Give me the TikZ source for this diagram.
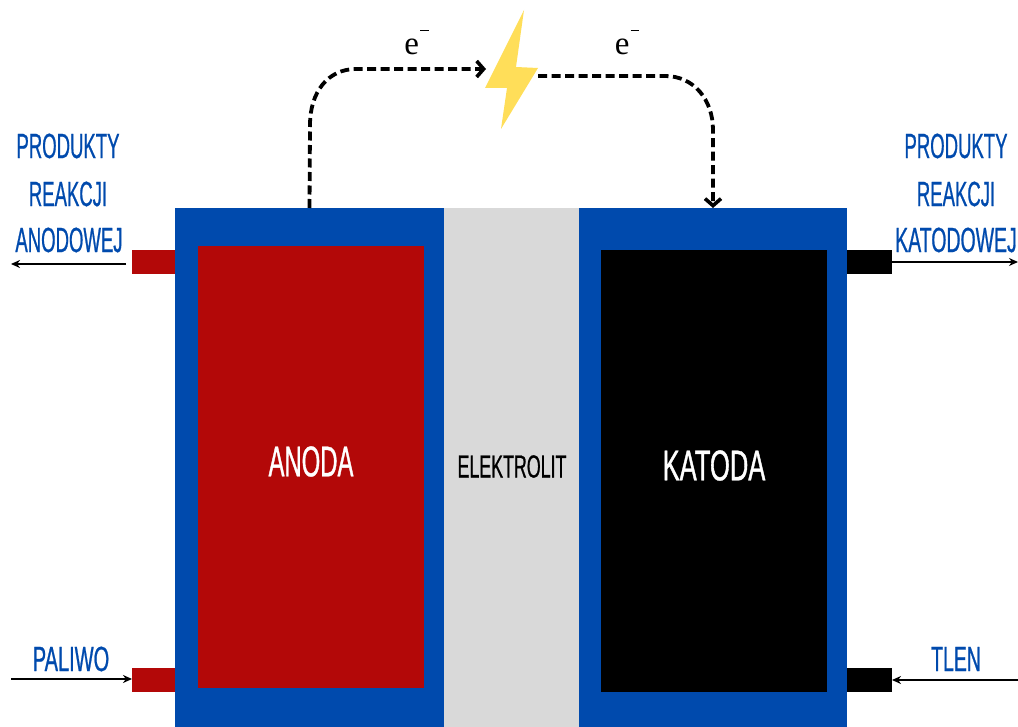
\documentclass[tikz,border=0pt]{standalone}
\usepackage{fontspec}
\setmainfont[FakeStretch=0.53,FakeBold=0.6]{Liberation Sans}
\newfontfamily\bigfont[FakeStretch=0.555,FakeBold=0.8]{Liberation Sans}
\newfontfamily\serifel{Liberation Serif}
\usetikzlibrary{arrows.meta}
\definecolor{cellblue}{HTML}{004AAD}
\definecolor{anodered}{HTML}{B30808}
\definecolor{elgray}{HTML}{D9D9D9}
\definecolor{boltyellow}{HTML}{FFDE59}
\tikzset{
  block/.style={rectangle,inner sep=0pt,outer sep=0pt,draw=none},
  biglabel/.style={inner sep=0pt,text=white,font=\bigfont\fontsize{43}{43}\selectfont},
  sidelabel/.style={inner sep=0pt,text=cellblue,font=\fontsize{35}{35}\selectfont},
  ellabel/.style={inner sep=0pt,font=\fontsize{32}{32}\selectfont},
  elabel/.style={inner sep=0pt,font=\serifel\fontsize{33}{33}\selectfont},
  widen/.style={transform shape,xscale=#1},
  flow/.style={line width=1.6pt,-{Stealth[length=9pt,width=8pt]}},
  current/.style={line width=3.8pt,dash pattern=on 9pt off 4.5pt,-{Straight Barb[length=7pt,width=16pt,line width=3.6pt]}},
}
\newcommand{\emin}{e\kern1pt\raisebox{24pt}{\rule{8.5pt}{1.2pt}}}
\begin{document}
\begin{tikzpicture}[x=1pt,y=-1pt]
\useasboundingbox (0,0) rectangle (1018,727);
\clip (0,0) rectangle (1018,727);
% ports
\node[block,fill=anodered,minimum width=44pt,minimum height=24pt] (portat) at (154,262) {};
\node[block,fill=anodered,minimum width=44pt,minimum height=24pt] (portab) at (154,680) {};
\node[block,fill=black,minimum width=45pt,minimum height=24pt] (portkt) at (869.5,262) {};
\node[block,fill=black,minimum width=45pt,minimum height=24pt] (portkb) at (869.5,680) {};
% cell
\node[block,fill=cellblue,minimum width=269pt,minimum height=519pt] (housea) at (309.5,467.5) {};
\node[block,fill=cellblue,minimum width=268pt,minimum height=519pt] (housek) at (713,467.5) {};
\node[block,fill=elgray,minimum width=135pt,minimum height=519pt] (elec) at (511.5,467.5) {};
\node[block,fill=anodered,minimum width=226pt,minimum height=442pt] (anode) at (311,467) {};
\node[block,fill=black,minimum width=226pt,minimum height=442pt] (cathode) at (714,471) {};
% texts
\node[biglabel] (tanode) at (311,461.5) {ANODA};
\node[biglabel,widen=1.07] (tkat) at (714,465.5) {KATODA};
\node[ellabel,widen=1.05] (tel) at (512,466.5) {ELEKTROLIT};
\node[sidelabel] (l1) at (68,146) {PRODUKTY};
\node[sidelabel] (l2) at (68,194) {REAKCJI};
\node[sidelabel] (l3) at (69,240) {ANODOWEJ};
\node[sidelabel] (r1) at (956,146) {PRODUKTY};
\node[sidelabel] (r2) at (956,194) {REAKCJI};
\node[sidelabel,widen=1.05] (r3) at (956,240) {KATODOWEJ};
\node[sidelabel,widen=1.08] (pal) at (71,659) {PALIWO};
\node[sidelabel,widen=1.05] (tl) at (956,659) {TLEN};
\node[elabel,anchor=base] (e1) at (416.5,55) {\emin};
\node[elabel,anchor=base] (e2) at (627,55) {\emin};
% bolt
\fill[boltyellow] (524,10) -- (516,67) -- (538,68) -- (501,129) -- (507,88) -- (485,88) -- cycle;
\coordinate (boltin) at (486,69);
\coordinate (boltout) at (538,76);
\coordinate (ca1) at (310,125);
\coordinate (ca2) at (356,69);
\coordinate (ck1) at (665,76);
\coordinate (ck2) at (713,130);
% free ends
\coordinate (endat) at (11,264);
\coordinate (endab) at (11,679);
\coordinate (endkt) at (1018,262);
\coordinate (endkb) at (1018,680);
% flows
\draw[flow] (portat.west |- endat) ++(-6,0) -- (endat);
\draw[flow] (endab) -- (portab.west |- endab);
\draw[flow] (portkt.east |- endkt) -- (endkt);
\draw[flow] (endkb) -- (portkb.east |- endkb);
% electron path
\draw[current] (housea.north) -- (ca1) .. controls (310,92) and (328,69) .. (ca2) -- (boltin);
\draw[current] (boltout) -- (ck1) .. controls (694,76) and (713,100) .. (ck2) -- (housek.north);
\end{tikzpicture}
\end{document}
